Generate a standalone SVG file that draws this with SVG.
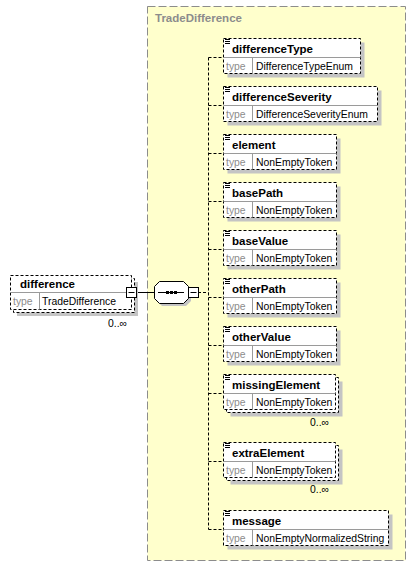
<svg xmlns="http://www.w3.org/2000/svg" width="417" height="567" viewBox="0 0 417 567">
<style>
.bg{fill:#fff}
.frame{fill:#ffffcc;stroke:#8c8c8c;stroke-dasharray:8,3}
.box{fill:#fff;stroke:#000;stroke-dasharray:3,2}
.sh{fill:#c4c4c4}
.dv{stroke:#9a9a9a;fill:none}
.ic{stroke:#000;fill:none}
.ln{stroke:#000;fill:none}
.dash{stroke:#000;fill:none;stroke-dasharray:3,2}
.nm{font-family:"Liberation Sans",Arial,sans-serif;font-weight:bold;font-size:11.5px;fill:#000}
.tt{font-family:"Liberation Sans",Arial,sans-serif;font-size:10.4px;fill:#8c8c8c}
.tv{font-family:"Liberation Sans",Arial,sans-serif;font-size:10.4px;fill:#000}
.oc{font-family:"Liberation Sans",Arial,sans-serif;font-size:10.4px;fill:#000;text-anchor:end}
.ttl{font-family:"Liberation Sans",Arial,sans-serif;font-weight:bold;font-size:11.5px;fill:#8c8c8c}
</style>
<rect class="bg" x="0" y="0" width="417" height="567"/>
<g id="TradeDifference">
<rect class="frame" x="147.5" y="6.5" width="258" height="554"/>
<text class="ttl" x="155" y="22">TradeDifference</text>
</g>
<g id="connectors">
<line class="ln" x1="137" y1="292.5" x2="154" y2="292.5"/>
<line class="dash" x1="198" y1="292.5" x2="208.5" y2="292.5"/>
<line class="dash" x1="208.5" y1="57.5" x2="208.5" y2="529.5"/>
<line class="dash" x1="208.5" y1="57.5" x2="223.5" y2="57.5"/>
<line class="dash" x1="208.5" y1="105.5" x2="223.5" y2="105.5"/>
<line class="dash" x1="208.5" y1="153.5" x2="223.5" y2="153.5"/>
<line class="dash" x1="208.5" y1="201.5" x2="223.5" y2="201.5"/>
<line class="dash" x1="208.5" y1="249.5" x2="223.5" y2="249.5"/>
<line class="dash" x1="208.5" y1="297.5" x2="223.5" y2="297.5"/>
<line class="dash" x1="208.5" y1="345.5" x2="223.5" y2="345.5"/>
<line class="dash" x1="208.5" y1="393.5" x2="223.5" y2="393.5"/>
<line class="dash" x1="208.5" y1="461.5" x2="223.5" y2="461.5"/>
<line class="dash" x1="208.5" y1="529.5" x2="223.5" y2="529.5"/>
</g>
<g id="difference">
<rect class="sh" x="17" y="282" width="121" height="34"/>
<rect class="box" x="13.5" y="278.5" width="121" height="34"/>
<rect class="box" x="10.5" y="275.5" width="121" height="34"/>
<line class="dv" x1="10.5" y1="292.5" x2="131.5" y2="292.5"/>
<line class="dv" x1="39.5" y1="292.5" x2="39.5" y2="309.5"/>
<text class="nm" x="20" y="288">difference</text>
<text class="tt" x="13" y="305">type</text>
<text class="tv" x="42" y="305">TradeDifference</text>
<text class="oc" x="127" y="327">0..∞</text>
<rect fill="#fff" stroke="#000" x="126.5" y="287.5" width="10" height="10"/>
<line class="ln" x1="128.5" y1="292.5" x2="134.5" y2="292.5"/>
</g>
<g id="sequence">
<polygon class="sh" points="162,284 186,284 191,289 191,301 186,306 162,306 157,301 157,289"/>
<polygon fill="#fff" stroke="#000" points="159.5,281.5 183.5,281.5 188.5,286.5 188.5,298.5 183.5,303.5 159.5,303.5 154.5,298.5 154.5,286.5"/>
<line class="ln" x1="158" y1="292.5" x2="184" y2="292.5"/>
<rect x="166" y="291" width="3" height="3" fill="#000"/>
<rect x="170" y="291" width="3" height="3" fill="#000"/>
<rect x="174" y="291" width="3" height="3" fill="#000"/>
<rect fill="#fff" stroke="#000" x="188.5" y="287.5" width="10" height="10"/>
<line class="ln" x1="190.5" y1="292.5" x2="196.5" y2="292.5"/>
</g>
<g id="differenceType">
<rect class="sh" x="227.5" y="42.5" width="137" height="35"/>
<rect class="box" x="223.5" y="38.5" width="137" height="35"/>
<path class="ic" d="M225 39.5h5M225 41.5h5M225 43.5h5"/>
<line class="dv" x1="223.5" y1="57.5" x2="360.5" y2="57.5"/>
<line class="dv" x1="252.5" y1="57.5" x2="252.5" y2="73.5"/>
<text class="nm" x="232" y="52.5">differenceType</text>
<text class="tt" x="226" y="70">type</text>
<text class="tv" x="256" y="70">DifferenceTypeEnum</text>
</g>
<g id="differenceSeverity">
<rect class="sh" x="227.5" y="90.5" width="154" height="35"/>
<rect class="box" x="223.5" y="86.5" width="154" height="35"/>
<path class="ic" d="M225 87.5h5M225 89.5h5M225 91.5h5"/>
<line class="dv" x1="223.5" y1="105.5" x2="377.5" y2="105.5"/>
<line class="dv" x1="252.5" y1="105.5" x2="252.5" y2="121.5"/>
<text class="nm" x="232" y="100.5">differenceSeverity</text>
<text class="tt" x="226" y="118">type</text>
<text class="tv" x="256" y="118">DifferenceSeverityEnum</text>
</g>
<g id="element">
<rect class="sh" x="227.5" y="138.5" width="113" height="35"/>
<rect class="box" x="223.5" y="134.5" width="113" height="35"/>
<path class="ic" d="M225 135.5h5M225 137.5h5M225 139.5h5"/>
<line class="dv" x1="223.5" y1="153.5" x2="336.5" y2="153.5"/>
<line class="dv" x1="252.5" y1="153.5" x2="252.5" y2="169.5"/>
<text class="nm" x="232" y="148.5">element</text>
<text class="tt" x="226" y="166">type</text>
<text class="tv" x="256" y="166">NonEmptyToken</text>
</g>
<g id="basePath">
<rect class="sh" x="227.5" y="186.5" width="113" height="35"/>
<rect class="box" x="223.5" y="182.5" width="113" height="35"/>
<path class="ic" d="M225 183.5h5M225 185.5h5M225 187.5h5"/>
<line class="dv" x1="223.5" y1="201.5" x2="336.5" y2="201.5"/>
<line class="dv" x1="252.5" y1="201.5" x2="252.5" y2="217.5"/>
<text class="nm" x="232" y="196.5">basePath</text>
<text class="tt" x="226" y="214">type</text>
<text class="tv" x="256" y="214">NonEmptyToken</text>
</g>
<g id="baseValue">
<rect class="sh" x="227.5" y="234.5" width="113" height="35"/>
<rect class="box" x="223.5" y="230.5" width="113" height="35"/>
<path class="ic" d="M225 231.5h5M225 233.5h5M225 235.5h5"/>
<line class="dv" x1="223.5" y1="249.5" x2="336.5" y2="249.5"/>
<line class="dv" x1="252.5" y1="249.5" x2="252.5" y2="265.5"/>
<text class="nm" x="232" y="244.5">baseValue</text>
<text class="tt" x="226" y="262">type</text>
<text class="tv" x="256" y="262">NonEmptyToken</text>
</g>
<g id="otherPath">
<rect class="sh" x="227.5" y="282.5" width="113" height="35"/>
<rect class="box" x="223.5" y="278.5" width="113" height="35"/>
<path class="ic" d="M225 279.5h5M225 281.5h5M225 283.5h5"/>
<line class="dv" x1="223.5" y1="297.5" x2="336.5" y2="297.5"/>
<line class="dv" x1="252.5" y1="297.5" x2="252.5" y2="313.5"/>
<text class="nm" x="232" y="292.5">otherPath</text>
<text class="tt" x="226" y="310">type</text>
<text class="tv" x="256" y="310">NonEmptyToken</text>
</g>
<g id="otherValue">
<rect class="sh" x="227.5" y="330.5" width="113" height="35"/>
<rect class="box" x="223.5" y="326.5" width="113" height="35"/>
<path class="ic" d="M225 327.5h5M225 329.5h5M225 331.5h5"/>
<line class="dv" x1="223.5" y1="345.5" x2="336.5" y2="345.5"/>
<line class="dv" x1="252.5" y1="345.5" x2="252.5" y2="361.5"/>
<text class="nm" x="232" y="340.5">otherValue</text>
<text class="tt" x="226" y="358">type</text>
<text class="tv" x="256" y="358">NonEmptyToken</text>
</g>
<g id="missingElement">
<rect class="sh" x="230.5" y="381.5" width="112" height="35"/>
<rect class="box" x="226.5" y="377.5" width="112" height="35"/>
<rect class="box" x="223.5" y="374.5" width="112" height="35"/>
<path class="ic" d="M225 375.5h5M225 377.5h5M225 379.5h5"/>
<line class="dv" x1="223.5" y1="393.5" x2="335.5" y2="393.5"/>
<line class="dv" x1="252.5" y1="393.5" x2="252.5" y2="409.5"/>
<text class="nm" x="232" y="388.5">missingElement</text>
<text class="tt" x="226" y="406">type</text>
<text class="tv" x="256" y="406">NonEmptyToken</text>
<text class="oc" x="329" y="426">0..∞</text>
</g>
<g id="extraElement">
<rect class="sh" x="230.5" y="449.5" width="112" height="35"/>
<rect class="box" x="226.5" y="445.5" width="112" height="35"/>
<rect class="box" x="223.5" y="442.5" width="112" height="35"/>
<path class="ic" d="M225 443.5h5M225 445.5h5M225 447.5h5"/>
<line class="dv" x1="223.5" y1="461.5" x2="335.5" y2="461.5"/>
<line class="dv" x1="252.5" y1="461.5" x2="252.5" y2="477.5"/>
<text class="nm" x="232" y="456.5">extraElement</text>
<text class="tt" x="226" y="474">type</text>
<text class="tv" x="256" y="474">NonEmptyToken</text>
<text class="oc" x="329" y="493">0..∞</text>
</g>
<g id="message">
<rect class="sh" x="227.5" y="514.5" width="165" height="35"/>
<rect class="box" x="223.5" y="510.5" width="165" height="35"/>
<path class="ic" d="M225 511.5h5M225 513.5h5M225 515.5h5"/>
<line class="dv" x1="223.5" y1="529.5" x2="388.5" y2="529.5"/>
<line class="dv" x1="252.5" y1="529.5" x2="252.5" y2="545.5"/>
<text class="nm" x="232" y="524.5">message</text>
<text class="tt" x="226" y="542">type</text>
<text class="tv" x="256" y="542">NonEmptyNormalizedString</text>
</g>
</svg>
